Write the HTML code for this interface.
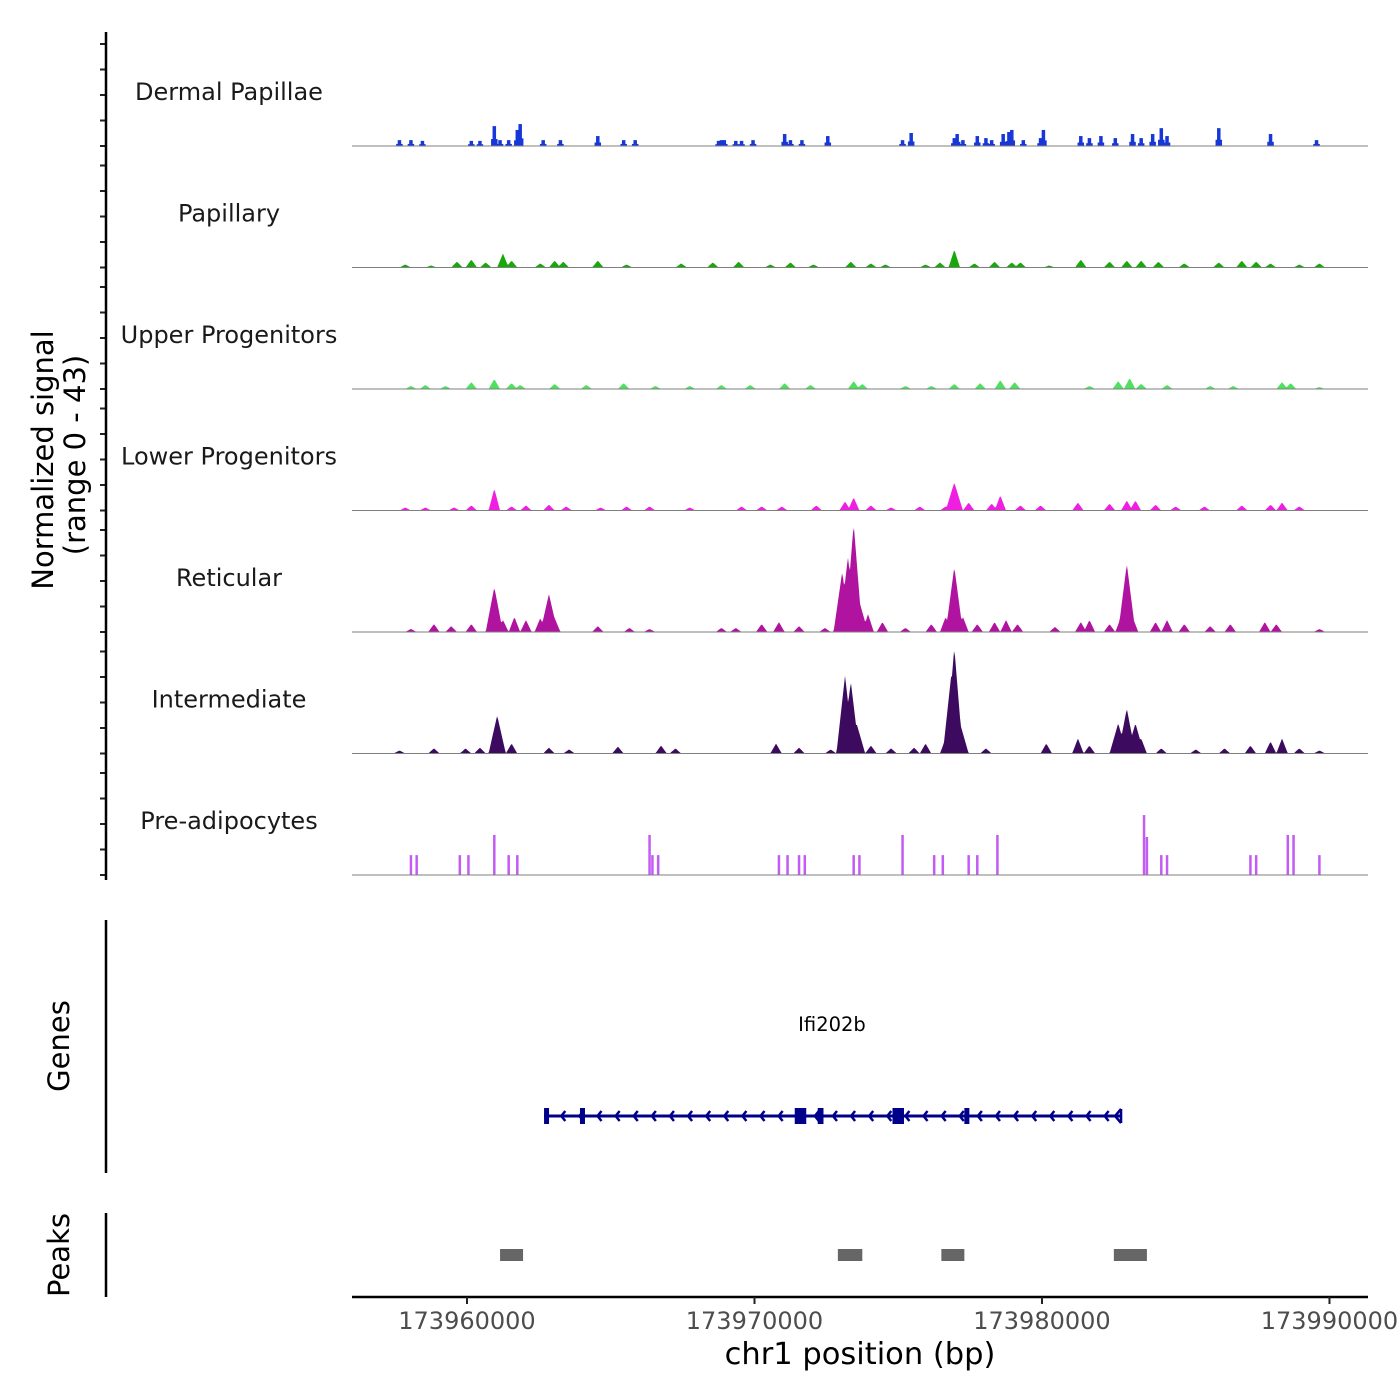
<!DOCTYPE html>
<html><head><meta charset="utf-8">
<style>
html,body{margin:0;padding:0;background:#fff;}
svg{display:block;font-family:"Liberation Sans","DejaVu Sans",sans-serif;}
</style></head>
<body>
<svg id="chart" width="1400" height="1400" viewBox="0 0 1400 1400" xmlns="http://www.w3.org/2000/svg">
<rect width="1400" height="1400" fill="#fff"/>
<g id="tracks"></g>
<g id="axes"></g>
<text transform="translate(53,460) rotate(-90)" text-anchor="middle" font-size="29" fill="#000" font-family="DejaVu Sans, sans-serif">Normalized signal</text>
<text transform="translate(85,455) rotate(-90)" text-anchor="middle" font-size="29" fill="#000" font-family="DejaVu Sans, sans-serif">(range 0 - 43)</text>
<text transform="translate(69,1046) rotate(-90)" text-anchor="middle" font-size="29" fill="#000" font-family="DejaVu Sans, sans-serif">Genes</text>
<text transform="translate(69,1255) rotate(-90)" text-anchor="middle" font-size="29" fill="#000" font-family="DejaVu Sans, sans-serif">Peaks</text>
<text x="860" y="1364" text-anchor="middle" font-size="30.5" fill="#000" font-family="DejaVu Sans, sans-serif">chr1 position (bp)</text>
<text x="832" y="1031" text-anchor="middle" font-size="19.5" fill="#000" font-family="DejaVu Sans, sans-serif">Ifi202b</text>
</svg>
<script>
// genomic positions in kb offset from 173950000
const trackNames = ["Dermal Papillae","Papillary","Upper Progenitors","Lower Progenitors","Reticular","Intermediate","Pre-adipocytes"];
const trackColors = ["#1737d6","#17a80a","#4fe060","#ee1fe0","#b0139f","#3c0a5e","#c25cf2"];
const dpPos = [7.65,8.05,8.45,10.15,10.45,10.95,11.15,11.45,11.75,11.85,12.65,13.25,14.55,15.45,15.85,18.75,18.85,18.95,19.35,19.55,19.95,21.05,21.25,21.65,22.55,25.15,25.45,26.95,27.05,27.25,27.75,28.05,28.25,28.65,28.85,28.95,29.35,29.95,30.05,31.35,31.65,32.05,32.55,33.15,33.45,33.85,34.15,34.35,36.15,37.95,39.55];
const dpVal = [2.3,2.3,2,2,2,7.8,2.3,2.3,6.3,8.6,2.3,2.3,3.9,2.3,2.3,2,2.3,2.3,2,2,2.3,4.7,2.3,2.3,3.9,2.3,5.1,3.1,4.7,2.3,3.9,3.1,2.3,4.7,5.5,6.3,2.3,3.1,6.3,3.9,3.1,3.9,3.1,4.7,3.1,4.7,7,3.9,7,4.7,2.3];
const papPos = [7.85,8.75,9.65,10.15,10.65,11.25,11.55,12.55,13.05,13.35,14.55,15.55,17.45,18.55,19.45,20.55,21.25,22.05,23.35,24.05,24.55,25.95,26.45,26.95,27.65,28.35,28.95,29.25,30.25,31.35,32.35,32.95,33.45,34.05,34.95,36.15,36.95,37.45,37.95,38.95,39.65];
const papVal = [1.2,0.8,2.3,3.1,2,5.5,2.7,1.6,2.7,2.3,2.7,1.2,1.6,2,2.3,1.2,2,1.2,2.3,1.6,1.2,1.2,2,7,1.6,2.3,2,2,0.8,3.1,2.3,2.7,2.7,2.3,1.6,2,2.7,2.3,1.6,1.2,1.6];
const upPos = [8.05,8.55,9.25,10.15,10.95,11.55,11.85,13.05,14.15,15.45,16.55,17.75,18.85,19.85,21.05,21.95,23.45,23.75,25.25,26.15,26.95,27.85,28.55,29.05,31.65,32.65,33.05,33.45,34.35,35.85,36.65,38.35,38.65,39.65];
const upVal = [1.2,1.6,1.2,2.7,3.9,2.3,1.6,2,1.6,2.3,1.2,1.2,1.6,1.6,2.3,1.6,3.1,2,1.2,1.2,2,2.3,3.5,2.7,1.2,3.1,4.3,2,1.6,1.2,1.2,2.7,2.3,0.8];
const lpPos = [7.85,8.55,9.55,10.15,10.95,11.55,12.05,12.85,13.45,14.65,15.55,16.35,17.75,19.55,20.25,20.95,22.15,23.15,23.45,24.05,24.75,25.75,26.65,26.95,27.45,28.25,28.55,29.25,29.95,31.25,32.35,32.95,33.25,33.95,34.65,35.65,36.95,37.95,38.35,38.95];
const lpVal = [1.2,1.2,1.2,2,8.6,1.6,2,2.3,1.6,1.2,1.6,1.6,1.2,1.6,1.6,1.6,2,3.5,5.1,2,1.2,1.6,1.6,11,3.1,2.7,5.9,2,2,3.1,2.7,3.9,3.9,2.3,1.6,1.6,2,2.3,3.1,1.6];
const retPos = [8.05,8.85,9.45,10.15,10.95,11.25,11.65,12.05,12.55,12.85,13.05,14.55,15.65,16.35,18.85,19.35,20.25,20.85,21.55,22.45,23.05,23.25,23.45,23.65,23.95,24.45,25.25,26.15,26.65,26.95,27.25,27.75,28.35,28.75,29.15,30.45,31.35,31.65,32.35,32.75,32.95,33.15,33.95,34.35,34.95,35.85,36.55,37.75,38.15,39.65];
const retVal = [1.2,3.1,2.3,3.1,17.6,4.7,5.9,4.7,5.5,14.9,5.5,2.3,1.6,1.2,1.6,1.6,3.1,3.9,2.3,1.6,23.5,29.4,42.4,11.8,7,3.9,1.6,3.1,5.9,25.5,5.9,3.1,3.9,4.7,3.1,2,3.9,4.7,3.1,5.9,26.7,5.9,3.9,4.7,3.1,2.3,3.1,3.9,3.1,1.2];
const intPos = [7.65,8.85,9.95,10.45,11.05,11.55,12.85,13.55,15.25,16.75,17.25,20.75,21.55,22.65,23.15,23.35,23.55,24.05,24.75,25.55,25.95,26.65,26.85,26.95,27.15,28.05,30.15,31.25,31.65,32.65,32.95,33.25,33.45,34.15,35.35,36.35,37.25,37.95,38.35,38.95,39.65];
const intVal = [1.2,2,2,2.3,14.9,3.9,2.3,1.6,2.7,3.1,2,3.9,2.3,1.6,30.6,28.2,11.8,3.1,2,2.3,3.9,5.9,31.4,41.6,11.8,2,3.9,5.9,3.1,11.8,17.6,11.8,5.9,2,1.6,2,3.1,4.7,5.9,2,1.2];
const prePos = [8.05,8.25,9.75,10.05,10.95,11.45,11.75,16.35,16.45,16.65,20.85,21.15,21.55,21.75,23.45,23.65,25.15,26.25,26.55,27.45,27.75,28.45,33.55,33.65,34.15,34.35,37.25,37.45,38.55,38.75,39.65];
const preVal = [7.8,7.8,7.8,7.8,15.7,7.8,7.8,15.7,7.8,7.8,7.8,7.8,7.8,7.8,7.8,7.8,15.7,7.8,7.8,7.8,7.8,15.7,23.5,14.9,7.8,7.8,7.8,7.8,15.7,15.7,7.8];
const trackPos = [dpPos,papPos,upPos,lpPos,retPos,intPos,prePos];
const trackVal = [dpVal,papVal,upVal,lpVal,retVal,intVal,preVal];
const trackStyle = ["bar","bump","bump","bump","bump","bump","bar"];
const yTicks = [0,10,20,30,40];
const xTickLabels = ["173960000","173970000","173980000","173990000"];
const xTickKb = [10,20,30,40];
const geneStart = 12.68, geneEnd = 32.75;
const exonStart = [12.68,13.93,21.4,22.2,24.8,27.3];
const exonEnd = [12.85,14.1,21.8,22.4,25.2,27.45];
const peakStart = [11.15,22.9,26.5,32.5];
const peakEnd = [11.95,23.75,27.3,33.65];

const NS="http://www.w3.org/2000/svg";
const X0=352, X1=1368, D0=6.0, D1=41.34;
function xs(kb){return X0+(kb-D0)/(D1-D0)*(X1-X0);}
const PXU=2.55;
function baseY(i){return 146+i*121.5;}
function ys(i,v){return baseY(i)-v*PXU;}
function mk(tag,attrs,parent){const e=document.createElementNS(NS,tag);for(const k in attrs)e.setAttribute(k,attrs[k]);parent.appendChild(e);return e;}

const tracks=document.getElementById('tracks');
const axes=document.getElementById('axes');
trackNames.forEach((name,i)=>{
  const g=mk('g',{},tracks);
  
  
  const lab=mk('text',{x:229,y:baseY(i)-46,'text-anchor':'middle','font-size':'24',fill:'#1a1a1a','font-family':'DejaVu Sans, sans-serif'},g);
  lab.textContent=name;
  
  
  const pos=trackPos[i], val=trackVal[i], b=baseY(i);
  if(trackStyle[i]==='bar'){
    pos.forEach((p,j)=>{
      const w = i===0?3.5:2.5;
      const r=mk('rect',{x:xs(p)-w/2,y:ys(i,val[j]),width:w,height:b-ys(i,val[j]),fill:trackColors[i]},g);
      
      
      if(i===0){
        const r2=mk('rect',{x:xs(p)-w/2-1.5,y:ys(i,val[j]*0.35),width:w+3,height:b-ys(i,val[j]*0.35),fill:trackColors[i]},g);
        
        
      }
    });
  } else {
    let d='M'+X0+','+b;
    for(let px=X0;px<=X1;px+=1){
      let v=0;
      pos.forEach((p,j)=>{
        const hw = val[j]>10?0.3:0.2;
        const dist=Math.abs(px-xs(p))/((X1-X0)/(D1-D0));
        if(dist<hw){const t=val[j]*(1-dist/hw); if(t>v)v=t;}
      });
      d+=' L'+px+','+ys(i,v).toFixed(1);
    }
    d+=' L'+X1+','+b+' Z';
    const a=mk('path',{d:d,fill:trackColors[i]},g);
    
    
  }
  const bl=mk('line',{x1:X0,x2:X1,y1:b,y2:b,stroke:'#7f7f7f','stroke-width':1},g);
  
  
  yTicks.forEach(t=>{
    const tk=mk('line',{x1:100,x2:106,y1:ys(i,t),y2:ys(i,t),stroke:'#222','stroke-width':2},axes);
    
    
  });
});
let l=mk('line',{x1:106,x2:106,y1:32,y2:880,stroke:'#000','stroke-width':2.5},axes);


l=mk('line',{x1:106,x2:106,y1:920,y2:1173,stroke:'#000','stroke-width':2.5},axes);


l=mk('line',{x1:106,x2:106,y1:1213,y2:1297,stroke:'#000','stroke-width':2.5},axes);


l=mk('line',{x1:X0,x2:X1,y1:1297,y2:1297,stroke:'#000','stroke-width':2.5},axes);


xTickKb.forEach((k,j)=>{
  const t=mk('line',{x1:xs(k),x2:xs(k),y1:1297,y2:1304,stroke:'#222','stroke-width':2},axes);
  
  
  const tx=mk('text',{x:xs(k),y:1329,'text-anchor':'middle','font-size':'24',fill:'#4d4d4d','font-family':'DejaVu Sans, sans-serif'},axes);
  tx.textContent=xTickLabels[j];
  
  
});
const gg=mk('g',{},tracks);


const gy=1116;
mk('line',{x1:xs(geneStart),x2:xs(geneEnd),y1:gy,y2:gy,stroke:'#00008b','stroke-width':3},gg);
for(let k=geneStart+0.6;k<geneEnd-0.2;k+=0.63){
  const x=xs(k);
  mk('polyline',{points:(x+4)+','+(gy-5)+' '+x+','+gy+' '+(x+4)+','+(gy+5),fill:'none',stroke:'#00008b','stroke-width':2.5},gg);
}
mk('polyline',{points:(xs(geneEnd))+','+(gy-7)+' '+(xs(geneEnd)-6)+','+gy+' '+xs(geneEnd)+','+(gy+7),fill:'none',stroke:'#00008b','stroke-width':2.5},gg);
mk('line',{x1:xs(geneEnd),x2:xs(geneEnd),y1:gy-7,y2:gy+7,stroke:'#00008b','stroke-width':2.5},gg);
exonStart.forEach((s,j)=>{
  const r=mk('rect',{x:xs(s),y:gy-8,width:Math.max(5,xs(exonEnd[j])-xs(s)),height:16,fill:'#00008b'},gg);
  
  
});
peakStart.forEach((s,j)=>{
  const r=mk('rect',{x:xs(s),y:1249,width:xs(peakEnd[j])-xs(s),height:12,fill:'#666'},tracks);
  
  
});
</script>
</body></html>
